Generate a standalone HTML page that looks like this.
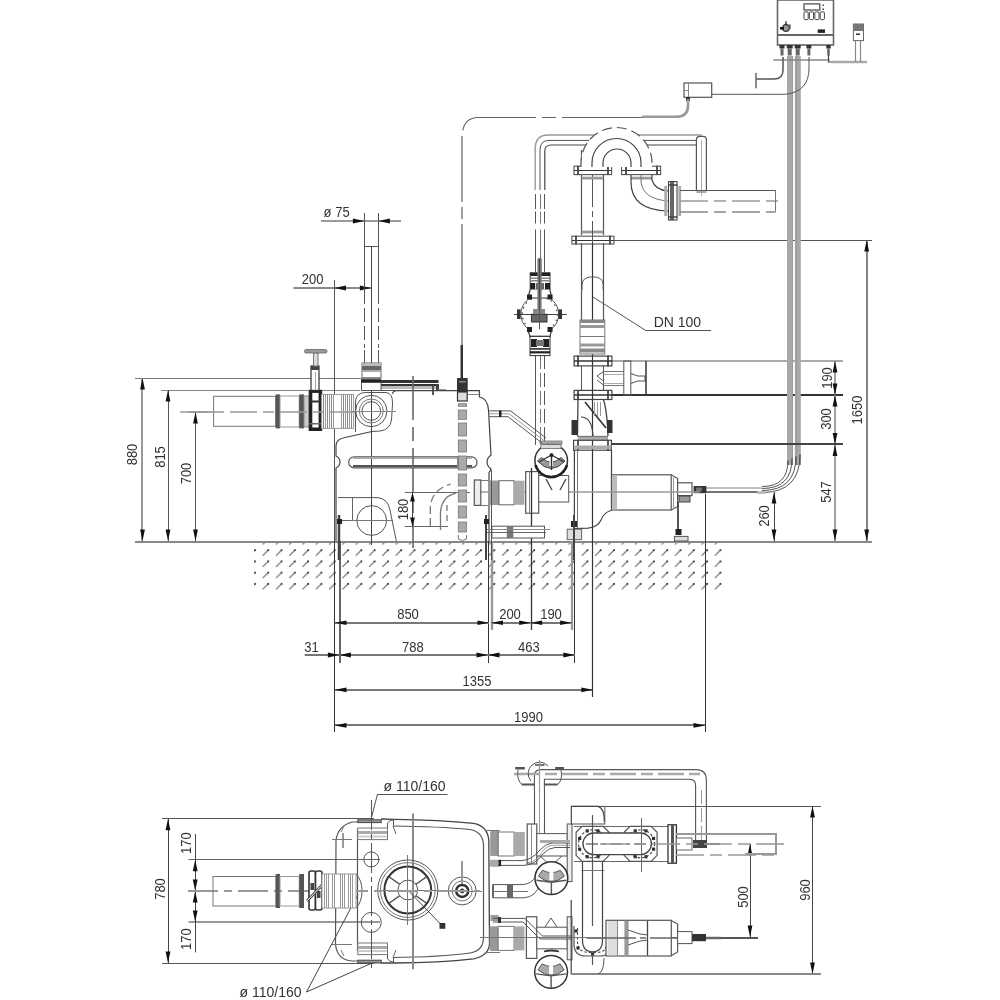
<!DOCTYPE html>
<html><head><meta charset="utf-8"><style>
html,body{margin:0;padding:0;background:#fff;}
svg{display:block;}
text{font-family:"Liberation Sans",sans-serif;}
svg{will-change:transform;}
</style></head><body>
<svg width="1000" height="1000" viewBox="0 0 1000 1000">
<defs>
<pattern id="hatch" patternUnits="userSpaceOnUse" width="13.3" height="11.22" x="261.5" y="537.1">
<path d="M1.2,7.4 L7.2,1.4" stroke="#666" stroke-width="1.1"/><circle cx="6.8" cy="1.8" r="0.95" fill="#222"/>
</pattern>
</defs>
<rect width="1000" height="1000" fill="#fff"/>
<rect x="254" y="541" width="474" height="49.5" fill="url(#hatch)"/>
<line x1="135" y1="542" x2="872" y2="542" stroke="#888" stroke-width="2"/>
<line x1="135" y1="378.5" x2="362" y2="378.5" stroke="#777" stroke-width="1.2"/>
<line x1="142" y1="378" x2="142" y2="541" stroke="#999" stroke-width="2"/>
<polygon points="142.5,378.0 140.1,389.5 144.9,389.5" fill="#111"/>
<polygon points="142.5,541.0 140.1,529.5 144.9,529.5" fill="#111"/>
<line x1="161" y1="390.5" x2="360" y2="390.5" stroke="#888" stroke-width="1.2"/>
<line x1="168.5" y1="390" x2="168.5" y2="541" stroke="#555" stroke-width="1"/>
<polygon points="168.0,390.0 165.6,401.5 170.4,401.5" fill="#111"/>
<polygon points="168.0,541.0 165.6,529.5 170.4,529.5" fill="#111"/>
<line x1="188" y1="412" x2="213" y2="412" stroke="#888" stroke-width="1.5"/>
<line x1="195.5" y1="412" x2="195.5" y2="541" stroke="#555" stroke-width="1"/>
<polygon points="195.5,412.0 193.1,423.5 197.9,423.5" fill="#111"/>
<polygon points="195.5,541.0 193.1,529.5 197.9,529.5" fill="#111"/>
<text transform="translate(132,454.5) rotate(-90) scale(0.93,1)" x="0" y="5.04" font-size="14" text-anchor="middle" fill="#333">880</text>
<text transform="translate(160,457) rotate(-90) scale(0.93,1)" x="0" y="5.04" font-size="14" text-anchor="middle" fill="#333">815</text>
<text transform="translate(186,473.5) rotate(-90) scale(0.93,1)" x="0" y="5.04" font-size="14" text-anchor="middle" fill="#333">700</text>
<line x1="321" y1="221" x2="401" y2="221" stroke="#777" stroke-width="1.5"/>
<polygon points="364.4,221.0 352.9,218.6 352.9,223.4" fill="#111"/>
<polygon points="378.4,221.0 389.9,218.6 389.9,223.4" fill="#111"/>
<line x1="364.5" y1="213" x2="364.5" y2="246" stroke="#555" stroke-width="1"/>
<line x1="378.5" y1="213" x2="378.5" y2="246" stroke="#555" stroke-width="1"/>
<text transform="translate(336.6,212) scale(0.93,1)" x="0" y="5.04" font-size="14" text-anchor="middle" fill="#333">ø 75</text>
<line x1="293.4" y1="288" x2="371.4" y2="288" stroke="#888" stroke-width="2"/>
<polygon points="334.4,288.0 345.9,285.6 345.9,290.4" fill="#111"/>
<polygon points="371.4,288.0 359.9,285.6 359.9,290.4" fill="#111"/>
<line x1="334.5" y1="280" x2="334.5" y2="541" stroke="#555" stroke-width="1"/>
<text transform="translate(312.6,279) scale(0.93,1)" x="0" y="5.04" font-size="14" text-anchor="middle" fill="#333">200</text>
<line x1="613" y1="240.5" x2="872" y2="240.5" stroke="#555" stroke-width="1"/>
<line x1="867" y1="240" x2="867" y2="541" stroke="#666" stroke-width="1.6"/>
<polygon points="866.7,240.0 864.3,251.5 869.1,251.5" fill="#111"/>
<polygon points="866.7,541.0 864.3,529.5 869.1,529.5" fill="#111"/>
<text transform="translate(856.5,410) rotate(-90) scale(0.93,1)" x="0" y="5.04" font-size="14" text-anchor="middle" fill="#333">1650</text>
<line x1="611" y1="361" x2="843" y2="361" stroke="#aaa" stroke-width="2"/>
<line x1="611" y1="395" x2="843" y2="395" stroke="#333" stroke-width="2"/>
<line x1="611" y1="444" x2="843" y2="444" stroke="#444" stroke-width="1.8"/>
<line x1="835" y1="361" x2="835" y2="541" stroke="#888" stroke-width="1.6"/>
<polygon points="835.0,361.0 832.6,372.5 837.4,372.5" fill="#111"/>
<polygon points="835.0,395.0 832.6,383.5 837.4,383.5" fill="#111"/>
<polygon points="835.0,395.0 832.6,406.5 837.4,406.5" fill="#111"/>
<polygon points="835.0,444.5 832.6,433.0 837.4,433.0" fill="#111"/>
<polygon points="835.0,444.5 832.6,456.0 837.4,456.0" fill="#111"/>
<polygon points="835.0,541.0 832.6,529.5 837.4,529.5" fill="#111"/>
<text transform="translate(826.5,378) rotate(-90) scale(0.93,1)" x="0" y="5.04" font-size="14" text-anchor="middle" fill="#333">190</text>
<text transform="translate(826,419) rotate(-90) scale(0.93,1)" x="0" y="5.04" font-size="14" text-anchor="middle" fill="#333">300</text>
<text transform="translate(826,492) rotate(-90) scale(0.93,1)" x="0" y="5.04" font-size="14" text-anchor="middle" fill="#333">547</text>
<line x1="774.5" y1="492" x2="774.5" y2="541" stroke="#444" stroke-width="1"/>
<polygon points="774.0,492.0 771.6,503.5 776.4,503.5" fill="#111"/>
<polygon points="774.0,541.0 771.6,529.5 776.4,529.5" fill="#111"/>
<text transform="translate(763.6,516) rotate(-90) scale(0.93,1)" x="0" y="5.04" font-size="14" text-anchor="middle" fill="#333">260</text>
<line x1="492" y1="541" x2="492" y2="630" stroke="#999" stroke-width="2.4"/>
<line x1="572" y1="541" x2="572" y2="630" stroke="#999" stroke-width="2.2"/>
<line x1="334.5" y1="541" x2="334.5" y2="732" stroke="#333" stroke-width="1"/>
<line x1="488.5" y1="541" x2="488.5" y2="663" stroke="#333" stroke-width="1"/>
<line x1="574.5" y1="541" x2="574.5" y2="663" stroke="#333" stroke-width="1"/>
<line x1="592.5" y1="541" x2="592.5" y2="697" stroke="#333" stroke-width="1"/>
<line x1="705.5" y1="541" x2="705.5" y2="732" stroke="#333" stroke-width="1"/>
<line x1="705.5" y1="494" x2="705.5" y2="541" stroke="#333" stroke-width="1"/>
<line x1="340" y1="541" x2="340" y2="663" stroke="#555" stroke-width="1.8"/>
<line x1="335" y1="623" x2="489" y2="623" stroke="#777" stroke-width="2"/>
<polygon points="335.0,622.8 346.5,620.4 346.5,625.1" fill="#111"/>
<polygon points="489.0,622.8 477.5,620.4 477.5,625.1" fill="#111"/>
<line x1="491.5" y1="623" x2="530.7" y2="623" stroke="#777" stroke-width="2"/>
<polygon points="491.5,622.8 503.0,620.4 503.0,625.1" fill="#111"/>
<polygon points="530.7,622.8 519.2,620.4 519.2,625.1" fill="#111"/>
<line x1="530.7" y1="623" x2="571.6" y2="623" stroke="#777" stroke-width="2"/>
<polygon points="530.7,622.8 542.2,620.4 542.2,625.1" fill="#111"/>
<polygon points="571.6,622.8 560.1,620.4 560.1,625.1" fill="#111"/>
<line x1="304.7" y1="655" x2="339.4" y2="655" stroke="#777" stroke-width="2"/>
<polygon points="339.4,655.0 327.9,652.6 327.9,657.4" fill="#111"/>
<line x1="339.4" y1="655" x2="488" y2="655" stroke="#777" stroke-width="2"/>
<polygon points="339.4,655.0 350.9,652.6 350.9,657.4" fill="#111"/>
<polygon points="488.0,655.0 476.5,652.6 476.5,657.4" fill="#111"/>
<line x1="488" y1="655" x2="574.8" y2="655" stroke="#777" stroke-width="2"/>
<polygon points="488.0,655.0 499.5,652.6 499.5,657.4" fill="#111"/>
<polygon points="574.8,655.0 563.3,652.6 563.3,657.4" fill="#111"/>
<line x1="335" y1="690" x2="592.8" y2="690" stroke="#777" stroke-width="2"/>
<polygon points="335.0,689.8 346.5,687.4 346.5,692.2" fill="#111"/>
<polygon points="592.8,689.8 581.3,687.4 581.3,692.2" fill="#111"/>
<line x1="335" y1="725" x2="705" y2="725" stroke="#777" stroke-width="2"/>
<polygon points="335.0,725.4 346.5,723.0 346.5,727.8" fill="#111"/>
<polygon points="705.0,725.4 693.5,723.0 693.5,727.8" fill="#111"/>
<text transform="translate(408,614) scale(0.93,1)" x="0" y="5.04" font-size="14" text-anchor="middle" fill="#333">850</text>
<text transform="translate(510,614) scale(0.93,1)" x="0" y="5.04" font-size="14" text-anchor="middle" fill="#333">200</text>
<text transform="translate(551,614) scale(0.93,1)" x="0" y="5.04" font-size="14" text-anchor="middle" fill="#333">190</text>
<text transform="translate(311.5,646.6) scale(0.93,1)" x="0" y="5.04" font-size="14" text-anchor="middle" fill="#333">31</text>
<text transform="translate(412.8,646.6) scale(0.93,1)" x="0" y="5.04" font-size="14" text-anchor="middle" fill="#333">788</text>
<text transform="translate(528.9,646.6) scale(0.93,1)" x="0" y="5.04" font-size="14" text-anchor="middle" fill="#333">463</text>
<text transform="translate(477,681) scale(0.93,1)" x="0" y="5.04" font-size="14" text-anchor="middle" fill="#333">1355</text>
<text transform="translate(528.4,717) scale(0.93,1)" x="0" y="5.04" font-size="14" text-anchor="middle" fill="#333">1990</text>
<line x1="162" y1="818.5" x2="374" y2="818.5" stroke="#555" stroke-width="1"/>
<line x1="162" y1="963.5" x2="374" y2="963.5" stroke="#555" stroke-width="1"/>
<line x1="168.5" y1="818.8" x2="168.5" y2="963" stroke="#444" stroke-width="1"/>
<polygon points="168.0,818.8 165.6,830.3 170.4,830.3" fill="#111"/>
<polygon points="168.0,963.0 165.6,951.5 170.4,951.5" fill="#111"/>
<text transform="translate(160,889) rotate(-90) scale(0.93,1)" x="0" y="5.04" font-size="14" text-anchor="middle" fill="#333">780</text>
<line x1="188.5" y1="859.5" x2="380" y2="859.5" stroke="#666" stroke-width="1"/>
<line x1="188.5" y1="922" x2="380" y2="922" stroke="#999" stroke-width="2"/>
<line x1="195.5" y1="834" x2="195.5" y2="952.4" stroke="#444" stroke-width="1"/>
<polygon points="195.2,859.8 192.8,871.3 197.6,871.3" fill="#111"/>
<polygon points="195.2,891.0 192.8,879.5 197.6,879.5" fill="#111"/>
<polygon points="195.2,891.0 192.8,902.5 197.6,902.5" fill="#111"/>
<polygon points="195.2,922.0 192.8,910.5 197.6,910.5" fill="#111"/>
<text transform="translate(186.4,843.2) rotate(-90) scale(0.93,1)" x="0" y="5.04" font-size="14" text-anchor="middle" fill="#333">170</text>
<text transform="translate(186.4,939.2) rotate(-90) scale(0.93,1)" x="0" y="5.04" font-size="14" text-anchor="middle" fill="#333">170</text>
<line x1="572.8" y1="806.5" x2="821" y2="806.5" stroke="#555" stroke-width="1"/>
<line x1="812.5" y1="806" x2="812.5" y2="974" stroke="#444" stroke-width="1"/>
<polygon points="812.5,806.0 810.1,817.5 814.9,817.5" fill="#111"/>
<polygon points="812.5,974.0 810.1,962.5 814.9,962.5" fill="#111"/>
<text transform="translate(805,890) rotate(-90) scale(0.93,1)" x="0" y="5.04" font-size="14" text-anchor="middle" fill="#333">960</text>
<line x1="750.5" y1="843.8" x2="750.5" y2="937" stroke="#444" stroke-width="1"/>
<polygon points="750.0,843.8 747.6,855.3 752.4,855.3" fill="#111"/>
<polygon points="750.0,937.0 747.6,925.5 752.4,925.5" fill="#111"/>
<text transform="translate(743,897) rotate(-90) scale(0.93,1)" x="0" y="5.04" font-size="14" text-anchor="middle" fill="#333">500</text>
<text transform="translate(414.6,786) scale(1.0,1)" x="0" y="5.04" font-size="14" text-anchor="middle" fill="#333">ø 110/160</text>
<line x1="377.5" y1="794.5" x2="447.5" y2="794.5" stroke="#555" stroke-width="1"/>
<line x1="377.5" y1="794" x2="371" y2="819.5" stroke="#555" stroke-width="1"/>
<text transform="translate(270.5,992) scale(1.0,1)" x="0" y="5.04" font-size="14" text-anchor="middle" fill="#333">ø 110/160</text>
<line x1="306.5" y1="992" x2="371" y2="963.5" stroke="#444" stroke-width="1"/>
<line x1="306.5" y1="992" x2="358" y2="894.4" stroke="#444" stroke-width="1"/>
<text transform="translate(677.4,321.8) scale(1.0,1)" x="0" y="5.04" font-size="14" text-anchor="middle" fill="#333">DN 100</text>
<line x1="593" y1="297" x2="645" y2="330" stroke="#555" stroke-width="1"/>
<line x1="645" y1="330.5" x2="711" y2="330.5" stroke="#555" stroke-width="1"/>
<line x1="364.4" y1="246.5" x2="378.4" y2="246.5" stroke="#555" stroke-width="1"/>
<line x1="364.5" y1="246" x2="364.5" y2="290" stroke="#555" stroke-width="1"/>
<line x1="378.5" y1="246" x2="378.5" y2="290" stroke="#555" stroke-width="1"/>
<line x1="364.5" y1="290" x2="364.5" y2="348" stroke="#555" stroke-width="1" stroke-dasharray="14,4"/>
<line x1="378.5" y1="290" x2="378.5" y2="348" stroke="#555" stroke-width="1" stroke-dasharray="14,4"/>
<line x1="364.5" y1="350" x2="364.5" y2="363" stroke="#555" stroke-width="1"/>
<line x1="378.5" y1="350" x2="378.5" y2="363" stroke="#555" stroke-width="1"/>
<line x1="371.5" y1="246" x2="371.5" y2="545" stroke="#444" stroke-width="1"/>
<rect x="362" y="363" width="19" height="16" stroke="#666" stroke-width="1" fill="#fff"/>
<rect x="362" y="363.5" width="19" height="2.5" fill="#bbb"/>
<rect x="362" y="366" width="19" height="4" fill="#666"/>
<rect x="362" y="370" width="19" height="2" fill="#aaa"/>
<rect x="362" y="377" width="19" height="2" fill="#888"/>
<rect x="213.6" y="396.3" width="62" height="30" stroke="#777" stroke-width="1" fill="none"/>
<rect x="275.7" y="394.4" width="4.3" height="34" fill="#555"/>
<rect x="280" y="396" width="19.2" height="31" stroke="#999" stroke-width="1" fill="none"/>
<rect x="299.2" y="394.4" width="4.8" height="34" fill="#555"/>
<rect x="304" y="396" width="5.3" height="31" stroke="#888" stroke-width="1" fill="#ccc"/>
<rect x="309.3" y="390.4" width="12.3" height="40" stroke="#222" stroke-width="1.2" fill="#fff"/>
<rect x="309.3" y="390.4" width="3" height="40" fill="#222"/>
<rect x="318.6" y="390.4" width="3" height="40" fill="#222"/>
<rect x="309.3" y="390.4" width="12.3" height="2.5" fill="#222"/>
<rect x="309.3" y="400.5" width="12.3" height="2" fill="#333"/>
<rect x="309.3" y="423" width="12.3" height="1.5" fill="#666"/>
<rect x="309.3" y="427.5" width="12.3" height="3" fill="#222"/>
<rect x="311" y="366" width="8" height="24.4" stroke="#333" stroke-width="1.2" fill="#fff"/>
<rect x="311" y="366" width="8" height="4" fill="#444"/>
<line x1="315.5" y1="372" x2="315.5" y2="390" stroke="#aaa" stroke-width="1"/>
<rect x="313.5" y="353" width="4.5" height="13" stroke="#777" stroke-width="1" fill="#ddd"/>
<rect x="304.5" y="349.5" width="22.5" height="3.5" stroke="#666" stroke-width="0.8" fill="#999" rx="1.5"/>
<rect x="321.6" y="394.4" width="32" height="34" stroke="#999" stroke-width="1" fill="#fff"/>
<line x1="323.5" y1="394.4" x2="323.5" y2="428.3" stroke="#888" stroke-width="1"/>
<line x1="325.5" y1="394.4" x2="325.5" y2="428.3" stroke="#999" stroke-width="1"/>
<line x1="327.5" y1="394.4" x2="327.5" y2="428.3" stroke="#888" stroke-width="1"/>
<line x1="329.5" y1="394.4" x2="329.5" y2="428.3" stroke="#999" stroke-width="1"/>
<line x1="331.5" y1="394.4" x2="331.5" y2="428.3" stroke="#888" stroke-width="1"/>
<line x1="333.5" y1="394.4" x2="333.5" y2="428.3" stroke="#999" stroke-width="1"/>
<line x1="341.5" y1="394.4" x2="341.5" y2="428.3" stroke="#999" stroke-width="1"/>
<line x1="343.5" y1="394.4" x2="343.5" y2="428.3" stroke="#888" stroke-width="1"/>
<line x1="345.5" y1="394.4" x2="345.5" y2="428.3" stroke="#999" stroke-width="1"/>
<line x1="347.5" y1="394.4" x2="347.5" y2="428.3" stroke="#888" stroke-width="1"/>
<line x1="349.5" y1="394.4" x2="349.5" y2="428.3" stroke="#999" stroke-width="1"/>
<line x1="351.5" y1="394.4" x2="351.5" y2="428.3" stroke="#888" stroke-width="1"/>
<line x1="180" y1="412" x2="360" y2="412" stroke="#999" stroke-width="1.6" stroke-dasharray="27,6,11,6"/>
<rect x="361" y="379.3" width="20" height="3" fill="#222"/>
<rect x="381" y="380" width="57.5" height="3" fill="#333"/>
<rect x="381" y="384" width="57.5" height="2" fill="#333"/>
<rect x="381" y="386" width="57.5" height="3" fill="#bbb"/>
<rect x="361.5" y="382.5" width="19.5" height="8" stroke="#555" stroke-width="1" fill="#fff"/>
<line x1="381" y1="390.5" x2="395" y2="390.5" stroke="#555" stroke-width="1"/>
<rect x="432" y="386" width="2" height="9" fill="#555"/>
<rect x="436" y="384" width="3" height="7" fill="#444"/>
<line x1="438" y1="390" x2="446" y2="390" stroke="#777" stroke-width="1.5"/>
<path d="M355.5,432 L355.5,402 Q355.5,392.5 366,392.5 L386,392.5 Q393,393 392.5,404 L391.5,420 Q390,430 380,431 L372,431.5" stroke="#555" stroke-width="1" fill="none"/>
<circle cx="371.3" cy="411" r="15.7" stroke="#555" stroke-width="1" fill="none"/>
<circle cx="371.3" cy="411" r="12" stroke="#777" stroke-width="1" fill="none"/>
<circle cx="371.3" cy="411" r="9.3" stroke="#555" stroke-width="1" fill="none"/>
<line x1="352" y1="411.5" x2="396" y2="411.5" stroke="#888" stroke-width="1"/>
<path d="M392.5,394 Q393,390.6 397,390.6 L479.4,390.6 L479.4,397 Q487.5,398 488.5,410 L491,455 Q487,458 487,462 Q487,466 491,469 L489,473 L489,541" stroke="#444" stroke-width="1.2" fill="none"/>
<line x1="458" y1="394.5" x2="479.4" y2="394.5" stroke="#888" stroke-width="1"/>
<path d="M372,431.5 L345,437.5 Q336,439 336,446 L336,456 Q340,458 340,462 Q340,466 336,468 L336,541" stroke="#444" stroke-width="1.2" fill="none"/>
<rect x="348.7" y="456.8" width="128.3" height="11.1" stroke="#555" stroke-width="1.2" fill="none" rx="5.5"/>
<line x1="353" y1="458" x2="472" y2="458" stroke="#aaa" stroke-width="2"/>
<line x1="353" y1="466" x2="472" y2="466" stroke="#555" stroke-width="2"/>
<rect x="457" y="457" width="10" height="11" fill="#888"/>
<path d="M338,497.6 L378,497.6 Q388,499 390,510 L396.3,541" stroke="#555" stroke-width="1" fill="none"/>
<line x1="352.5" y1="497.6" x2="352.5" y2="520" stroke="#666" stroke-width="1"/>
<line x1="338" y1="520.5" x2="352" y2="520.5" stroke="#666" stroke-width="1"/>
<circle cx="371.7" cy="520.5" r="14.9" stroke="#555" stroke-width="1" fill="none"/>
<line x1="350" y1="520.5" x2="393" y2="520.5" stroke="#777" stroke-width="1"/>
<line x1="413" y1="376" x2="413" y2="548" stroke="#666" stroke-width="1.6" stroke-dasharray="44,7,14,7"/>
<line x1="404.8" y1="492.5" x2="470" y2="492.5" stroke="#666" stroke-width="1"/>
<line x1="404.8" y1="526.5" x2="448" y2="526.5" stroke="#666" stroke-width="1"/>
<line x1="412.5" y1="492.5" x2="412.5" y2="526.5" stroke="#444" stroke-width="1"/>
<polygon points="412.5,492.5 410.1,501.5 414.9,501.5" fill="#111"/>
<polygon points="412.5,526.5 410.1,517.5 414.9,517.5" fill="#111"/>
<text transform="translate(403,509.5) rotate(-90) scale(0.93,1)" x="0" y="5.04" font-size="14" text-anchor="middle" fill="#333">180</text>
<path d="M430.3,526 L430.3,508 Q431,490 450.7,484" stroke="#777" stroke-width="1.3" fill="none" stroke-dasharray="8,4"/>
<path d="M440.5,530 L440.5,512 Q442,496 455.8,493.4" stroke="#777" stroke-width="1.3" fill="none"/>
<path d="M447,505 L447,522" stroke="#777" stroke-width="1.3" fill="none" stroke-dasharray="6,4"/>
<line x1="462" y1="136" x2="462" y2="345" stroke="#888" stroke-width="1.6" stroke-dasharray="66,5,12,5,300"/>
<rect x="460.5" y="345" width="2.5" height="33" fill="#333"/>
<rect x="457" y="378" width="10.7" height="14" fill="#333"/>
<rect x="459" y="381" width="6.7" height="1.5" fill="#888"/>
<rect x="457.5" y="392" width="9.7" height="9" stroke="#333" stroke-width="1.2" fill="#ddd"/>
<rect x="458.3" y="403.7" width="8.2" height="2.6000000000000227" stroke="#777" stroke-width="0.8" fill="#aaa"/>
<rect x="458.3" y="410" width="8.2" height="9.300000000000011" stroke="#777" stroke-width="0.8" fill="#aaa"/>
<rect x="458.3" y="423" width="8.2" height="13" stroke="#777" stroke-width="0.8" fill="#aaa"/>
<rect x="458.3" y="440" width="8.2" height="12" stroke="#777" stroke-width="0.8" fill="#aaa"/>
<rect x="458.3" y="456" width="8.2" height="14" stroke="#777" stroke-width="0.8" fill="#aaa"/>
<rect x="458.3" y="474" width="8.2" height="12" stroke="#777" stroke-width="0.8" fill="#aaa"/>
<rect x="458.3" y="490" width="8.2" height="12" stroke="#777" stroke-width="0.8" fill="#aaa"/>
<rect x="458.3" y="506" width="8.2" height="12" stroke="#777" stroke-width="0.8" fill="#aaa"/>
<rect x="458.3" y="522" width="8.2" height="10" stroke="#777" stroke-width="0.8" fill="#aaa"/>
<path d="M458.3,535 L458.3,539 Q462.4,542 466.5,539 L466.5,535" stroke="#777" stroke-width="1" fill="none"/>
<line x1="339" y1="515" x2="339" y2="560" stroke="#444" stroke-width="2.5"/>
<rect x="337" y="519" width="5" height="5" fill="#222"/>
<path d="M535.2,190 L535.2,149 Q535.2,135 548,135 L701.6,135" stroke="#999" stroke-width="1.4" fill="none"/>
<path d="M696.4,191 L696.4,140 Q696.4,136.4 700,136.4 L703,136.4 Q706.4,136.4 706.4,140 L706.4,191" stroke="#555" stroke-width="1.2" fill="#fff"/>
<line x1="701.5" y1="140" x2="701.5" y2="196" stroke="#aaa" stroke-width="1"/>
<rect x="696.4" y="190" width="10" height="3" fill="#aaa"/>
<path d="M540,190 L540,150 Q540,140.4 549,140.4 L696.4,140.4" stroke="#555" stroke-width="1" fill="none"/>
<path d="M544.8,190 L544.8,151 Q544.8,145 551,145 L696.4,145" stroke="#444" stroke-width="1.2" fill="none"/>
<line x1="535.5" y1="190" x2="535.5" y2="232" stroke="#555" stroke-width="1" stroke-dasharray="0,4,15,2.5,12,2"/>
<line x1="535.5" y1="232" x2="535.5" y2="272" stroke="#555" stroke-width="1"/>
<line x1="535.5" y1="355" x2="535.5" y2="445" stroke="#555" stroke-width="1"/>
<line x1="540.5" y1="190" x2="540.5" y2="232" stroke="#777" stroke-width="1" stroke-dasharray="0,4,15,2.5,12,2"/>
<line x1="540.5" y1="232" x2="540.5" y2="272" stroke="#777" stroke-width="1"/>
<line x1="540.5" y1="355" x2="540.5" y2="445" stroke="#777" stroke-width="1" stroke-dasharray="14,4"/>
<line x1="544.5" y1="190" x2="544.5" y2="232" stroke="#555" stroke-width="1" stroke-dasharray="0,4,15,2.5,12,2"/>
<line x1="544.5" y1="232" x2="544.5" y2="272" stroke="#555" stroke-width="1"/>
<line x1="544.5" y1="355" x2="544.5" y2="445" stroke="#555" stroke-width="1" stroke-dasharray="14,4"/>
<rect x="538" y="258" width="3.5" height="14" fill="#777"/>
<circle cx="539.8" cy="314.2" r="18.9" stroke="#555" stroke-width="1" fill="#fff"/>
<circle cx="539.8" cy="314.2" r="17.5" stroke="#444" stroke-width="1.2" fill="none" stroke-dasharray="1.5,4"/>
<line x1="514" y1="314.5" x2="566.8" y2="314.5" stroke="#444" stroke-width="1"/>
<rect x="517" y="309.4" width="3.6" height="9.6" fill="#333"/>
<rect x="558.4" y="309.4" width="3.6" height="9.6" fill="#333"/>
<rect x="530.2" y="272.8" width="19.8" height="16.8" stroke="#333" stroke-width="1" fill="#fff"/>
<rect x="530.2" y="272.8" width="19.8" height="3.2" fill="#222"/>
<rect x="530.2" y="277.5" width="19.8" height="1.5" fill="#888"/>
<rect x="530.2" y="280" width="19.8" height="1.5" fill="#888"/>
<rect x="530.2" y="283" width="5" height="6.6" fill="#222"/>
<rect x="545" y="283" width="5" height="6.6" fill="#222"/>
<rect x="536" y="283" width="8" height="6" fill="#666"/>
<path d="M530.2,289.6 L527.8,298 L551.8,298 L549.8,289.6" stroke="#333" stroke-width="1.2" fill="#fff"/>
<rect x="527" y="294.5" width="5" height="5" fill="#222"/>
<rect x="547.5" y="294.5" width="5" height="5" fill="#222"/>
<rect x="537.4" y="259" width="4.2" height="51" fill="#777"/>
<line x1="539.5" y1="259" x2="539.5" y2="300" stroke="#444" stroke-width="1"/>
<rect x="531.4" y="314.2" width="15.6" height="7.8" stroke="#333" stroke-width="1" fill="#666"/>
<rect x="533" y="309" width="12" height="5" fill="#888"/>
<line x1="539.5" y1="298" x2="539.5" y2="330" stroke="#555" stroke-width="1"/>
<path d="M527.8,329.2 L530,336.4 L550,336.4 L551.8,329.2" stroke="#333" stroke-width="1.2" fill="#fff"/>
<rect x="527" y="327" width="5" height="5" fill="#222"/>
<rect x="547.5" y="327" width="5" height="5" fill="#222"/>
<rect x="530" y="336.4" width="20" height="19.2" stroke="#333" stroke-width="1" fill="#fff"/>
<rect x="531" y="339" width="6" height="8" fill="#222"/>
<rect x="543" y="339" width="6" height="8" fill="#222"/>
<rect x="536" y="340" width="8" height="6" fill="#777"/>
<rect x="530" y="348" width="20" height="1.8" fill="#444"/>
<rect x="530" y="351.2" width="20" height="2.2" fill="#222"/>
<line x1="581.5" y1="175" x2="581.5" y2="235" stroke="#555" stroke-width="1.2"/>
<line x1="603.5" y1="175" x2="603.5" y2="235" stroke="#555" stroke-width="1.2"/>
<rect x="571.9" y="236.2" width="42.0" height="7.800000000000011" stroke="#555" stroke-width="1.1" fill="#fff"/>
<line x1="571.9" y1="240.5" x2="613.9" y2="240.5" stroke="#333" stroke-width="1.2"/>
<line x1="576" y1="235.7" x2="576" y2="244.5" stroke="#444" stroke-width="1.8"/>
<line x1="610" y1="235.7" x2="610" y2="244.5" stroke="#444" stroke-width="1.8"/>
<rect x="581.6" y="230.6" width="21.6" height="2.8" fill="#999"/>
<line x1="581.5" y1="243" x2="581.5" y2="320" stroke="#555" stroke-width="1.2"/>
<line x1="603.5" y1="243" x2="603.5" y2="320" stroke="#555" stroke-width="1.2"/>
<line x1="592.5" y1="167" x2="592.5" y2="243" stroke="#555" stroke-width="1" stroke-dasharray="40,4,6,4"/>
<line x1="592.5" y1="243" x2="592.5" y2="697" stroke="#333" stroke-width="1.2"/>
<path d="M582,290 L582,285 Q582,276.8 592.8,276.8 Q603.2,276.8 603.2,285 L603.2,290" stroke="#555" stroke-width="1" fill="none"/>
<rect x="580" y="320" width="24.8" height="34" stroke="#777" stroke-width="1" fill="#fff"/>
<rect x="580" y="320" width="24.8" height="3" fill="#888"/>
<rect x="580" y="325" width="24.8" height="3" fill="#999"/>
<rect x="580" y="343.5" width="24.8" height="3" fill="#999"/>
<rect x="580" y="348.5" width="24.8" height="4" fill="#888"/>
<line x1="580" y1="336.5" x2="604.8" y2="336.5" stroke="#777" stroke-width="1"/>
<rect x="574.1" y="356.1" width="37.8" height="9.8" stroke="#444" stroke-width="1.2" fill="none"/>
<line x1="578" y1="355.6" x2="578" y2="366.4" stroke="#444" stroke-width="1.8"/>
<line x1="608" y1="355.6" x2="608" y2="366.4" stroke="#444" stroke-width="1.8"/>
<line x1="574.1" y1="361" x2="611.9" y2="361" stroke="#333" stroke-width="1.5"/>
<line x1="581.5" y1="366" x2="581.5" y2="390.4" stroke="#555" stroke-width="1"/>
<line x1="603.5" y1="366" x2="603.5" y2="390.4" stroke="#555" stroke-width="1"/>
<path d="M603.5,371.5 L597,376 L603.5,381 M603.5,385 L597,380" stroke="#555" stroke-width="1" fill="none"/>
<rect x="574.1" y="390.4" width="37.8" height="9.1" stroke="#444" stroke-width="1.2" fill="none"/>
<line x1="578" y1="389.9" x2="578" y2="400" stroke="#444" stroke-width="1.8"/>
<line x1="608" y1="389.9" x2="608" y2="400" stroke="#444" stroke-width="1.8"/>
<line x1="574.1" y1="395" x2="611.9" y2="395" stroke="#333" stroke-width="1.5"/>
<line x1="603.5" y1="371.5" x2="623.8" y2="371.5" stroke="#777" stroke-width="1"/>
<line x1="603.5" y1="374.5" x2="623.8" y2="374.5" stroke="#aaa" stroke-width="1"/>
<line x1="603.5" y1="383.5" x2="623.8" y2="383.5" stroke="#aaa" stroke-width="1"/>
<line x1="603.5" y1="385.5" x2="623.8" y2="385.5" stroke="#777" stroke-width="1"/>
<rect x="623.8" y="361" width="7" height="34" stroke="#555" stroke-width="1" fill="none"/>
<path d="M630.8,373.5 L637.8,376 L645,376 L645,381 L637.8,381 L630.8,383.5" stroke="#555" stroke-width="1" fill="none"/>
<line x1="646" y1="361" x2="646" y2="395" stroke="#333" stroke-width="1.5"/>
<path d="M578,400 L577.5,436 M603.5,400 Q607,410 608,436" stroke="#444" stroke-width="1.3" fill="none"/>
<line x1="577.5" y1="436.5" x2="608" y2="436.5" stroke="#444" stroke-width="1.2"/>
<path d="M585,402 L606,428" stroke="#333" stroke-width="1.6" fill="none"/>
<path d="M581,417 Q592,417 593,436" stroke="#444" stroke-width="1.2" fill="none"/>
<line x1="594.5" y1="402" x2="594.5" y2="416" stroke="#999" stroke-width="1"/>
<line x1="597.5" y1="402" x2="597.5" y2="416" stroke="#999" stroke-width="1"/>
<line x1="600.5" y1="402" x2="600.5" y2="416" stroke="#999" stroke-width="1"/>
<rect x="571.5" y="420" width="6" height="15" fill="#333"/>
<rect x="607" y="420" width="5.5" height="13" fill="#333"/>
<rect x="578" y="436.5" width="30" height="3.5" fill="#aaa"/>
<rect x="573.6" y="440.3" width="37.8" height="9.9" stroke="#444" stroke-width="1.2" fill="none"/>
<line x1="578" y1="439.8" x2="578" y2="450.7" stroke="#444" stroke-width="1.8"/>
<line x1="608" y1="439.8" x2="608" y2="450.7" stroke="#444" stroke-width="1.8"/>
<rect x="574" y="166.2" width="37.60000000000002" height="8.400000000000006" stroke="#555" stroke-width="1.1" fill="#fff"/>
<line x1="574" y1="170.5" x2="611.6" y2="170.5" stroke="#333" stroke-width="1.2"/>
<line x1="578" y1="165.7" x2="578" y2="175.1" stroke="#444" stroke-width="1.8"/>
<line x1="608" y1="165.7" x2="608" y2="175.1" stroke="#444" stroke-width="1.8"/>
<rect x="581.6" y="176.7" width="21.6" height="2.8" fill="#999"/>
<rect x="621.6" y="166.2" width="39.0" height="8.400000000000006" stroke="#555" stroke-width="1.1" fill="#fff"/>
<line x1="621.6" y1="170.5" x2="660.6" y2="170.5" stroke="#333" stroke-width="1.2"/>
<line x1="626" y1="165.7" x2="626" y2="175.1" stroke="#444" stroke-width="1.8"/>
<line x1="657" y1="165.7" x2="657" y2="175.1" stroke="#444" stroke-width="1.8"/>
<rect x="631" y="176.7" width="21" height="2.8" fill="#999"/>
<line x1="581.5" y1="150" x2="581.5" y2="167" stroke="#555" stroke-width="1.2"/>
<line x1="603.5" y1="152" x2="603.5" y2="167" stroke="#555" stroke-width="1.2"/>
<path d="M581,167 L581,163 A35.5,35.5 0 0 1 652,163 L652,167 Z" stroke="none" stroke-width="0" fill="#fff"/>
<path d="M581,167 L581,163 A35.5,35.5 0 0 1 652,163 L652,167" stroke="#555" stroke-width="1.2" fill="none" stroke-dasharray="10,5"/>
<path d="M592,167 L592,163 A24.5,24.5 0 0 1 641,163 L641,167" stroke="#444" stroke-width="1.2" fill="none"/>
<path d="M603,167 L603,163 A14,14 0 0 1 631,163 L631,167" stroke="#444" stroke-width="1.2" fill="none"/>
<path d="M631,175 L631,182 Q631,210 668,211" stroke="#444" stroke-width="1.2" fill="none"/>
<path d="M641,175 L641,182 Q643,199 668,201" stroke="#777" stroke-width="1" fill="none"/>
<path d="M652,175 L652,180 Q655,190 668,191" stroke="#444" stroke-width="1.2" fill="none"/>
<rect x="664.3" y="186" width="2.8" height="30" fill="#aaa"/>
<rect x="668.5" y="181.6" width="8.5" height="38.4" stroke="#444" stroke-width="1.1" fill="#fff"/>
<line x1="671" y1="181.6" x2="671" y2="220" stroke="#333" stroke-width="1.5"/>
<line x1="673" y1="181.6" x2="673" y2="220" stroke="#333" stroke-width="1.5"/>
<line x1="668" y1="185" x2="677.5" y2="185" stroke="#444" stroke-width="1.5"/>
<line x1="668" y1="217" x2="677.5" y2="217" stroke="#444" stroke-width="1.5"/>
<rect x="678.3" y="186" width="2.8" height="30" fill="#aaa"/>
<line x1="680" y1="190.5" x2="775.7" y2="190.5" stroke="#555" stroke-width="1.2"/>
<line x1="680" y1="212" x2="775.7" y2="212" stroke="#888" stroke-width="1.6" stroke-dasharray="28,6,12,6"/>
<line x1="680" y1="201" x2="780" y2="201" stroke="#999" stroke-width="1.6" stroke-dasharray="28,6,12,6"/>
<line x1="775.5" y1="190.4" x2="775.5" y2="211.5" stroke="#777" stroke-width="1"/>
<rect x="787" y="56" width="6" height="409" fill="#a8a8a8"/>
<rect x="794.8" y="56" width="6" height="409" fill="#a8a8a8"/>
<line x1="792.5" y1="56" x2="792.5" y2="465" stroke="#999" stroke-width="1"/>
<line x1="796.5" y1="56" x2="796.5" y2="465" stroke="#999" stroke-width="1"/>
<path d="M788,465 L788,460.5 Q788,486.5 762,486.5" stroke="#555" stroke-width="1" fill="none"/>
<path d="M792,465 L792,458.5 Q792,488.5 762,488.5" stroke="#555" stroke-width="1" fill="none"/>
<path d="M796,465 L796,456.5 Q796,490.5 762,490.5" stroke="#555" stroke-width="1" fill="none"/>
<path d="M800,465 L800,454.5 Q800,492.5 762,492.5" stroke="#555" stroke-width="1" fill="none"/>
<line x1="706" y1="488" x2="762" y2="488" stroke="#aaa" stroke-width="1.5"/>
<line x1="706" y1="492" x2="762" y2="492" stroke="#444" stroke-width="1.5"/>
<rect x="757" y="491" width="8" height="3" fill="#bbb"/>
<rect x="777.5" y="0" width="56" height="45" stroke="#666" stroke-width="1.6" fill="#fff"/>
<line x1="777.5" y1="35" x2="833.5" y2="35" stroke="#666" stroke-width="2"/>
<rect x="804" y="3.9" width="15.8" height="6.1" stroke="#444" stroke-width="1.2" fill="none"/>
<rect x="804.0" y="11.9" width="4.2" height="7.7" stroke="#444" stroke-width="1" fill="none" rx="1"/>
<rect x="809.4" y="11.9" width="4.2" height="7.7" stroke="#444" stroke-width="1" fill="none" rx="1"/>
<rect x="814.8" y="11.9" width="4.2" height="7.7" stroke="#444" stroke-width="1" fill="none" rx="1"/>
<rect x="820.2" y="11.9" width="4.2" height="7.7" stroke="#444" stroke-width="1" fill="none" rx="1"/>
<rect x="822.5" y="4.5" width="1.5" height="1.5" fill="#444"/>
<rect x="822.5" y="8.5" width="1.5" height="1.5" fill="#444"/>
<rect x="817.7" y="29.4" width="7.3" height="3.5" fill="#222"/>
<circle cx="786" cy="28" r="3.3" stroke="#333" stroke-width="1.2" fill="#999"/>
<rect x="785" y="21" width="2" height="3" fill="#888"/>
<rect x="785" y="23.5" width="2" height="1.5" fill="#222"/>
<rect x="780" y="27" width="4" height="2.6" fill="#111"/>
<rect x="788.6" y="24.5" width="2" height="4.5" fill="#555"/>
<rect x="779.5" y="45" width="5" height="3.5" fill="#333"/>
<rect x="780.5" y="48.5" width="3" height="7" fill="#666"/>
<rect x="786.7" y="45" width="6" height="3.5" fill="#333"/>
<rect x="787.7" y="48.5" width="4" height="7" fill="#666"/>
<rect x="794.7" y="45" width="6" height="3.5" fill="#333"/>
<rect x="795.7" y="48.5" width="4" height="7" fill="#666"/>
<rect x="806.4" y="45" width="5" height="3.5" fill="#333"/>
<rect x="807.4" y="48.5" width="3" height="7" fill="#666"/>
<rect x="826.25" y="45" width="4.5" height="3.5" fill="#333"/>
<rect x="827.25" y="48.5" width="2.5" height="7" fill="#666"/>
<line x1="773.3" y1="60" x2="829.6" y2="60" stroke="#888" stroke-width="1.5"/>
<path d="M828.5,55 L828.5,62 L852,62" stroke="#444" stroke-width="1.2" fill="none"/>
<line x1="832" y1="62" x2="867" y2="62" stroke="#aaa" stroke-width="2.5"/>
<rect x="853.4" y="24" width="10.1" height="16.6" stroke="#666" stroke-width="1" fill="#fff"/>
<rect x="853.4" y="24" width="10.1" height="7" fill="#777"/>
<rect x="856" y="33.5" width="4" height="1.5" fill="#333"/>
<line x1="855.5" y1="40.6" x2="855.5" y2="62" stroke="#888" stroke-width="1.2"/>
<line x1="860.5" y1="40.6" x2="860.5" y2="62" stroke="#888" stroke-width="1.2"/>
<path d="M783,57 L783,70 Q783,79 774,79 L756,79" stroke="#555" stroke-width="1.5" fill="none"/>
<line x1="756" y1="73" x2="756" y2="88.3" stroke="#666" stroke-width="1.5"/>
<path d="M809,57 L809,68 Q809,92 785,94.3 L711.7,94.3" stroke="#555" stroke-width="1" fill="none"/>
<rect x="684" y="83" width="27.7" height="14.3" stroke="#555" stroke-width="1.2" fill="#fff"/>
<line x1="688.5" y1="83" x2="688.5" y2="97.3" stroke="#888" stroke-width="1"/>
<line x1="688" y1="90.5" x2="684" y2="90.5" stroke="#888" stroke-width="1"/>
<rect x="686" y="97" width="4" height="4" fill="#333"/>
<path d="M688,99 L688,106 Q688,116.8 676,116.8 L642,116.8" stroke="#999" stroke-width="2.6" fill="none"/>
<path d="M642,117.5 L478,117.5 Q462.4,118 462.4,136" stroke="#666" stroke-width="1.2" fill="none" stroke-dasharray="80,6,14,6"/>
<line x1="611" y1="444" x2="843" y2="444" stroke="#444" stroke-width="1.8"/>
<rect x="574.4" y="445.5" width="37" height="3.5" fill="#aaa"/>
<path d="M574.4,450 L574.4,528.6 L588,528.2 Q598,527 601,520 Q604,512 611.5,510.5 L611.5,450" stroke="#444" stroke-width="1.2" fill="none"/>
<line x1="577.5" y1="450" x2="577.5" y2="528" stroke="#777" stroke-width="1"/>
<rect x="611.5" y="474.8" width="59.7" height="35.2" stroke="#555" stroke-width="1.2" fill="#fff"/>
<rect x="612" y="475.5" width="5" height="34" fill="#bbb"/>
<path d="M671.2,474.8 L677.6,478.5 L677.6,506.5 L671.2,510" stroke="#555" stroke-width="1.2" fill="none"/>
<line x1="673.5" y1="476" x2="673.5" y2="509" stroke="#999" stroke-width="1"/>
<rect x="677.6" y="482.8" width="14.4" height="12.8" stroke="#555" stroke-width="1.2" fill="#fff"/>
<rect x="679" y="496" width="11" height="6" stroke="#444" stroke-width="1" fill="#999"/>
<rect x="693.6" y="486" width="12.8" height="7.2" fill="#333"/>
<rect x="696" y="487.5" width="6" height="4" fill="#777"/>
<line x1="678" y1="502" x2="678" y2="531" stroke="#444" stroke-width="1.8"/>
<rect x="675.5" y="529" width="6" height="6" fill="#222"/>
<rect x="674.4" y="536.4" width="13.6" height="4.6" stroke="#555" stroke-width="1" fill="#ddd"/>
<line x1="480" y1="492" x2="700" y2="492" stroke="#999" stroke-width="1.6"/>
<rect x="571" y="521" width="6" height="6" fill="#222"/>
<rect x="567.2" y="529.2" width="14.4" height="10.4" stroke="#666" stroke-width="1" fill="#ddd"/>
<line x1="574" y1="515" x2="574" y2="560" stroke="#444" stroke-width="2"/>
<rect x="474.3" y="480" width="6.5" height="25.4" stroke="#555" stroke-width="1.2" fill="#eee"/>
<rect x="488.6" y="480.5" width="10.4" height="24.5" fill="#999"/>
<line x1="480.8" y1="480.5" x2="488.6" y2="480.5" stroke="#777" stroke-width="1"/>
<line x1="480.8" y1="505.5" x2="488.6" y2="505.5" stroke="#777" stroke-width="1"/>
<rect x="499" y="480.7" width="15" height="24.1" stroke="#666" stroke-width="1" fill="#fff"/>
<rect x="514" y="480.7" width="10.4" height="24.1" fill="#aaa"/>
<rect x="525.7" y="471.6" width="13" height="41.6" stroke="#555" stroke-width="1.2" fill="#fff"/>
<line x1="529.5" y1="471.6" x2="529.5" y2="513.2" stroke="#888" stroke-width="1"/>
<rect x="538.7" y="475.5" width="30" height="26.5" stroke="#555" stroke-width="1" fill="#fff"/>
<path d="M546,479 L552,490 M566,479 L560,490" stroke="#444" stroke-width="1.3" fill="none"/>
<line x1="531.5" y1="468" x2="531.5" y2="630" stroke="#333" stroke-width="1.3"/>
<rect x="491.9" y="526.2" width="52.6" height="11.8" stroke="#555" stroke-width="1" fill="#fff"/>
<rect x="506.8" y="526.2" width="6.5" height="11.8" fill="#777"/>
<line x1="486" y1="529.5" x2="550" y2="529.5" stroke="#888" stroke-width="1"/>
<line x1="486" y1="532.5" x2="546" y2="532.5" stroke="#666" stroke-width="1"/>
<line x1="486" y1="515" x2="486" y2="560" stroke="#444" stroke-width="2"/>
<rect x="484" y="519" width="5" height="5" fill="#222"/>
<line x1="491.5" y1="470" x2="491.5" y2="560" stroke="#555" stroke-width="1"/>
<circle cx="551.2" cy="460.5" r="16.3" stroke="#333" stroke-width="1.5" fill="#fff"/>
<path d="M535.5,465 A16.3,16.3 0 0 0 567,465" stroke="#222" stroke-width="2.6" fill="none"/>
<rect x="540" y="441" width="22" height="3" stroke="#777" stroke-width="0.8" fill="#aaa"/>
<rect x="541" y="444.5" width="20" height="4" stroke="#666" stroke-width="0.8" fill="#ddd"/>
<path d="M537.5,461 Q551.2,476 565,461 L561,457.5 Q551.2,467 541.5,457.5 Z" stroke="#444" stroke-width="1" fill="#999"/>
<rect x="549.5" y="458" width="3.5" height="8" fill="#fff"/>
<path d="M551.5,455 L539,462 M551.5,455 L564,462 M551.5,455 L551.5,470" stroke="#333" stroke-width="1.4" fill="none"/>
<circle cx="551.5" cy="455" r="1.5" stroke="#222" stroke-width="1" fill="#222"/>
<path d="M489.2,410.9 L510.6,410.9 L546,438" stroke="#555" stroke-width="1" fill="none"/>
<path d="M489.2,416.7 L508,416.7 L542,443" stroke="#555" stroke-width="1" fill="none"/>
<path d="M489.2,413.8 L509,413.8 L544,440.5" stroke="#999" stroke-width="1" fill="none"/>
<rect x="499" y="410.5" width="2.5" height="6.5" fill="#222"/>
<path d="M381,819 L394,819.4 Q440,820 473.6,823.4 Q487.5,826 488.8,840 L489.5,944 Q488.5,956 473.6,958.8 Q440,962.5 394,963 L381,963" stroke="#444" stroke-width="1.3" fill="none"/>
<path d="M393,826 Q440,826.5 470,829.5 Q483,832 483.5,845 L483.5,938 Q483,951 470,953 Q440,957 393,957.5" stroke="#555" stroke-width="1.2" fill="none"/>
<line x1="393.5" y1="819" x2="393.5" y2="826" stroke="#555" stroke-width="1"/>
<line x1="393.5" y1="957.5" x2="393.5" y2="963" stroke="#555" stroke-width="1"/>
<line x1="393" y1="826" x2="396" y2="834" stroke="#666" stroke-width="1"/>
<line x1="393" y1="957.5" x2="396" y2="950" stroke="#666" stroke-width="1"/>
<path d="M358,822 L352,822 Q338,826 336,840 L335.5,944 Q337,960 352,961 L358,961" stroke="#555" stroke-width="1.2" fill="none"/>
<line x1="357.5" y1="829" x2="357.5" y2="951" stroke="#555" stroke-width="1.2"/>
<rect x="357.8" y="819.8" width="23.4" height="2.8" stroke="#444" stroke-width="1" fill="#999"/>
<rect x="357.8" y="960.2" width="23.4" height="2.8" stroke="#444" stroke-width="1" fill="#999"/>
<rect x="357.8" y="828" width="29.7" height="11.6" stroke="#777" stroke-width="1" fill="#fff"/>
<rect x="358" y="831" width="29" height="3" fill="#aaa"/>
<rect x="358" y="835.5" width="29" height="2" fill="#ccc"/>
<rect x="357.8" y="943" width="29.7" height="11.6" stroke="#777" stroke-width="1" fill="#fff"/>
<rect x="358" y="946" width="29" height="3" fill="#aaa"/>
<rect x="358" y="950" width="29" height="2" fill="#ccc"/>
<path d="M387.5,828 L387.5,823 Q390,820 393,820 M387.5,954.6 L387.5,959 Q390,962 393,962" stroke="#555" stroke-width="1" fill="none"/>
<line x1="341" y1="832" x2="344" y2="826" stroke="#777" stroke-width="1"/>
<line x1="343" y1="833" x2="343" y2="848" stroke="#777" stroke-width="1.5"/>
<line x1="332" y1="839.5" x2="352" y2="839.5" stroke="#777" stroke-width="1"/>
<line x1="341" y1="950" x2="344" y2="956" stroke="#777" stroke-width="1"/>
<line x1="332" y1="944.5" x2="352" y2="944.5" stroke="#777" stroke-width="1"/>
<circle cx="371.3" cy="859.4" r="7.5" stroke="#555" stroke-width="1" fill="none"/>
<circle cx="371.3" cy="922.4" r="10" stroke="#555" stroke-width="1" fill="none"/>
<line x1="371.5" y1="800" x2="371.5" y2="968" stroke="#555" stroke-width="1" stroke-dasharray="30,4,5,4"/>
<line x1="413" y1="813.5" x2="413" y2="969.2" stroke="#888" stroke-width="2"/>
<path d="M356,874 Q362,880 362,891 Q362,902 356,908" stroke="#555" stroke-width="1" fill="none"/>
<circle cx="407.8" cy="890" r="30.1" stroke="#555" stroke-width="1" fill="none"/>
<circle cx="407.8" cy="890" r="27.4" stroke="#777" stroke-width="1" fill="none"/>
<circle cx="407.8" cy="890" r="23.4" stroke="#333" stroke-width="2" fill="none"/>
<circle cx="407.8" cy="890" r="9.9" stroke="#555" stroke-width="1" fill="none"/>
<line x1="415.90960523846104" y1="895.6784067198754" x2="426.64049701864684" y2="903.192258036074" stroke="#444" stroke-width="1.3"/>
<line x1="399.690394761539" y1="895.6784067198754" x2="388.9595029813532" y2="903.192258036074" stroke="#444" stroke-width="1.3"/>
<line x1="399.690394761539" y1="884.3215932801246" x2="388.9595029813532" y2="876.807741963926" stroke="#444" stroke-width="1.3"/>
<line x1="415.90960523846104" y1="884.3215932801246" x2="426.64049701864684" y2="876.8077419639259" stroke="#444" stroke-width="1.3"/>
<line x1="374" y1="890.5" x2="440" y2="890.5" stroke="#777" stroke-width="1"/>
<line x1="407.5" y1="855" x2="407.5" y2="925" stroke="#777" stroke-width="1"/>
<line x1="407.8" y1="890" x2="442.4" y2="926" stroke="#444" stroke-width="1"/>
<rect x="439.5" y="923" width="5.8" height="5.8" fill="#333"/>
<circle cx="462.2" cy="890.9" r="14" stroke="#555" stroke-width="1" fill="none"/>
<circle cx="462.2" cy="890.9" r="10" stroke="#777" stroke-width="1" fill="none"/>
<circle cx="462.2" cy="890.9" r="6" stroke="#333" stroke-width="2.5" fill="none"/>
<circle cx="462.2" cy="890.9" r="2" stroke="#333" stroke-width="1" fill="#333"/>
<line x1="462" y1="861" x2="462" y2="884" stroke="#999" stroke-width="2"/>
<line x1="445" y1="891.5" x2="482" y2="891.5" stroke="#777" stroke-width="1"/>
<line x1="188" y1="891" x2="480" y2="891" stroke="#999" stroke-width="2" stroke-dasharray="30,6,8,6"/>
<rect x="213" y="876.5" width="63" height="29.5" stroke="#777" stroke-width="1" fill="none"/>
<rect x="275.7" y="874" width="4.3" height="34" fill="#555"/>
<rect x="280" y="876.5" width="19.2" height="29.5" stroke="#999" stroke-width="1" fill="none"/>
<rect x="299.2" y="874" width="4.8" height="34" fill="#555"/>
<rect x="309" y="871" width="6.5" height="39" stroke="#333" stroke-width="1.6" fill="#fff" rx="2"/>
<rect x="315.5" y="871" width="6.5" height="39" stroke="#333" stroke-width="1.6" fill="#fff" rx="2"/>
<rect x="310.5" y="883" width="3.5" height="7" fill="#444"/>
<rect x="317" y="891" width="3.5" height="7" fill="#444"/>
<line x1="307" y1="901" x2="326" y2="881" stroke="#444" stroke-width="2.6"/>
<line x1="307" y1="901" x2="326" y2="881" stroke="#fff" stroke-width="1"/>
<rect x="322" y="874" width="34" height="34" stroke="#999" stroke-width="1" fill="#fff"/>
<line x1="324.5" y1="874" x2="324.5" y2="908" stroke="#999" stroke-width="1"/>
<line x1="326.5" y1="874" x2="326.5" y2="908" stroke="#999" stroke-width="1"/>
<line x1="328.5" y1="874" x2="328.5" y2="908" stroke="#999" stroke-width="1"/>
<line x1="332.5" y1="874" x2="332.5" y2="908" stroke="#999" stroke-width="1"/>
<line x1="334.5" y1="874" x2="334.5" y2="908" stroke="#999" stroke-width="1"/>
<line x1="340.5" y1="874" x2="340.5" y2="908" stroke="#999" stroke-width="1"/>
<line x1="342.5" y1="874" x2="342.5" y2="908" stroke="#999" stroke-width="1"/>
<line x1="344.5" y1="874" x2="344.5" y2="908" stroke="#999" stroke-width="1"/>
<line x1="348.5" y1="874" x2="348.5" y2="908" stroke="#999" stroke-width="1"/>
<line x1="350.5" y1="874" x2="350.5" y2="908" stroke="#999" stroke-width="1"/>
<line x1="352.5" y1="874" x2="352.5" y2="908" stroke="#999" stroke-width="1"/>
<rect x="490.5" y="830.6" width="8" height="23.399999999999977" fill="#999"/>
<rect x="490.5" y="860" width="8" height="6.600000000000023" fill="#999"/>
<rect x="490.5" y="915" width="8" height="6" fill="#999"/>
<rect x="490.5" y="928" width="8" height="23" fill="#999"/>
<line x1="484.8" y1="830.5" x2="500" y2="830.5" stroke="#777" stroke-width="1"/>
<line x1="484.8" y1="952.5" x2="500" y2="952.5" stroke="#777" stroke-width="1"/>
<path d="M534.4,790 L534.4,776 Q534.4,769.6 541,769.6 L696,769.6 Q706.4,769.6 706.4,780 L706.4,842" stroke="#555" stroke-width="1.1" fill="none"/>
<path d="M544.4,790 L544.4,779.2 L690,779.2 Q695.6,779.2 695.6,786 L695.6,842" stroke="#555" stroke-width="1.1" fill="none"/>
<line x1="514" y1="774" x2="700" y2="774" stroke="#aaa" stroke-width="2.5" stroke-dasharray="26,5,12,5"/>
<line x1="701.5" y1="790" x2="701.5" y2="840" stroke="#999" stroke-width="1" stroke-dasharray="14,4"/>
<path d="M531,781 A9.5,9.5 0 0 1 548,766" stroke="#555" stroke-width="1" fill="none"/>
<line x1="535" y1="765" x2="544.5" y2="765" stroke="#555" stroke-width="1.6"/>
<rect x="515.2" y="767" width="9.6" height="2.5" fill="#555"/>
<rect x="555.2" y="767" width="8.8" height="2.5" fill="#555"/>
<rect x="521.6" y="783.5" width="12.8" height="2" fill="#555"/>
<rect x="544.8" y="783.5" width="12.8" height="2" fill="#555"/>
<path d="M518,770 Q516.5,780 522,784.6 M561,770 Q563,780 557.6,784.6" stroke="#555" stroke-width="1" fill="none"/>
<line x1="539.5" y1="760" x2="539.5" y2="792" stroke="#999" stroke-width="1.2"/>
<line x1="534.5" y1="790" x2="534.5" y2="833.6" stroke="#555" stroke-width="1.1"/>
<line x1="544.5" y1="790" x2="544.5" y2="833.6" stroke="#555" stroke-width="1.1"/>
<line x1="539.5" y1="790" x2="539.5" y2="833.6" stroke="#999" stroke-width="1"/>
<rect x="693" y="840" width="14" height="8" fill="#444"/>
<line x1="706" y1="844" x2="720" y2="844" stroke="#777" stroke-width="2"/>
<rect x="490.4" y="832" width="8" height="24" fill="#999"/>
<rect x="498" y="832" width="16" height="24" stroke="#777" stroke-width="1" fill="none"/>
<rect x="514" y="832" width="10.8" height="24" fill="#aaa"/>
<rect x="527.2" y="824" width="9.6" height="40" stroke="#555" stroke-width="1.2" fill="#fff"/>
<line x1="531.5" y1="824" x2="531.5" y2="864" stroke="#888" stroke-width="1"/>
<rect x="536.8" y="833.6" width="30.4" height="22.4" stroke="#555" stroke-width="1" fill="#fff"/>
<path d="M540,856 L551,866 L562,856" stroke="#555" stroke-width="1" fill="none"/>
<rect x="567.2" y="824" width="4.8" height="57.6" stroke="#555" stroke-width="1" fill="#eee"/>
<path d="M490,860.6 L522,860.6 Q532,860 540,850 Q545,844 552,843 L570,843" stroke="#555" stroke-width="1" fill="none"/>
<path d="M490,865.4 L524,865.4 Q535,865 543,854 Q548,848 555,847.5 L570,847.5" stroke="#555" stroke-width="1" fill="none"/>
<path d="M526,863 Q537,862 542,852 Q546,846 553,845.3 L570,845.3" stroke="#888" stroke-width="0.8" fill="none"/>
<rect x="498.5" y="859.8" width="2.6" height="6.4" fill="#222"/>
<rect x="490" y="859.8" width="8" height="6.4" fill="#aaa"/>
<rect x="540" y="840" width="30" height="3" fill="#aaa"/>
<line x1="493" y1="884.6" x2="493" y2="897.8" stroke="#333" stroke-width="1.5"/>
<path d="M492.8,884.6 L522,884.6 Q532,884 536,876" stroke="#555" stroke-width="1" fill="none"/>
<path d="M492.8,897.8 L524,897.8 Q536,897 540,884" stroke="#555" stroke-width="1" fill="none"/>
<line x1="492.8" y1="891.5" x2="528" y2="891.5" stroke="#777" stroke-width="1"/>
<rect x="507" y="884.6" width="6" height="13.2" fill="#666"/>
<circle cx="551.4" cy="878.2" r="16.4" stroke="#333" stroke-width="1.5" fill="#fff"/>
<path d="M538.4,876.2 Q551.4,887.2 564.4,876.2 L560.4,870.2 Q551.4,875.2 542.4,870.2 Z" stroke="#555" stroke-width="1" fill="#aaa"/>
<rect x="549.4" y="871.2" width="4" height="9" fill="#fff"/>
<path d="M536.4,880.2 L551.4,882.2 L566.4,880.2 M551.4,882.2 L551.4,894.2" stroke="#555" stroke-width="1.4" fill="none"/>
<path d="M544,951.5 Q551,949.5 559,951.5" stroke="#333" stroke-width="1.8" fill="none"/>
<path d="M545,941 L540,946 M557,941 L562,946" stroke="#555" stroke-width="1" fill="none"/>
<circle cx="551.1" cy="971.9" r="16.4" stroke="#333" stroke-width="1.5" fill="#fff"/>
<path d="M538.1,969.9 Q551.1,980.9 564.1,969.9 L560.1,963.9 Q551.1,968.9 542.1,963.9 Z" stroke="#555" stroke-width="1" fill="#aaa"/>
<rect x="549.1" y="964.9" width="4" height="9" fill="#fff"/>
<path d="M536.1,973.9 L551.1,975.9 L566.1,973.9 M551.1,975.9 L551.1,987.9" stroke="#555" stroke-width="1.4" fill="none"/>
<rect x="571.2" y="806.4" width="33.6" height="17.6" stroke="#555" stroke-width="1" fill="#fff"/>
<path d="M571,806.3 L598,806.3 Q604.4,808 604.4,822" stroke="#444" stroke-width="1.2" fill="none"/>
<line x1="574" y1="826.5" x2="670" y2="826.5" stroke="#666" stroke-width="1"/>
<line x1="574" y1="861.5" x2="670" y2="861.5" stroke="#666" stroke-width="1"/>
<path d="M582.1,826.3 L603.1,826.3 L609.1,832.3 L609.1,855.3 L603.1,861.3 L582.1,861.3 L576.1,855.3 L576.1,832.3 Z" stroke="#555" stroke-width="1.2" fill="#fff"/>
<circle cx="592.6" cy="843.8" r="14" stroke="#444" stroke-width="1.2" fill="none" stroke-dasharray="2.5,2"/>
<rect x="603.934313455158" y="847.5575680531111" width="3.2" height="3.2" fill="#333"/>
<rect x="596.3575680531112" y="855.1343134551579" width="3.2" height="3.2" fill="#333"/>
<rect x="585.6424319468888" y="855.1343134551579" width="3.2" height="3.2" fill="#333"/>
<rect x="578.065686544842" y="847.5575680531111" width="3.2" height="3.2" fill="#333"/>
<rect x="578.065686544842" y="836.8424319468887" width="3.2" height="3.2" fill="#333"/>
<rect x="585.6424319468888" y="829.265686544842" width="3.2" height="3.2" fill="#333"/>
<rect x="596.3575680531112" y="829.265686544842" width="3.2" height="3.2" fill="#333"/>
<rect x="603.934313455158" y="836.8424319468887" width="3.2" height="3.2" fill="#333"/>
<path d="M630.1,826.3 L651.1,826.3 L657.1,832.3 L657.1,855.3 L651.1,861.3 L630.1,861.3 L624.1,855.3 L624.1,832.3 Z" stroke="#555" stroke-width="1.2" fill="#fff"/>
<circle cx="640.6" cy="843.8" r="14" stroke="#444" stroke-width="1.2" fill="none" stroke-dasharray="2.5,2"/>
<rect x="651.934313455158" y="847.5575680531111" width="3.2" height="3.2" fill="#333"/>
<rect x="644.3575680531112" y="855.1343134551579" width="3.2" height="3.2" fill="#333"/>
<rect x="633.6424319468888" y="855.1343134551579" width="3.2" height="3.2" fill="#333"/>
<rect x="626.065686544842" y="847.5575680531111" width="3.2" height="3.2" fill="#333"/>
<rect x="626.065686544842" y="836.8424319468887" width="3.2" height="3.2" fill="#333"/>
<rect x="633.6424319468888" y="829.265686544842" width="3.2" height="3.2" fill="#333"/>
<rect x="644.3575680531112" y="829.265686544842" width="3.2" height="3.2" fill="#333"/>
<rect x="651.934313455158" y="836.8424319468887" width="3.2" height="3.2" fill="#333"/>
<rect x="583" y="833" width="68.4" height="21.6" stroke="#444" stroke-width="1.3" fill="#fff" rx="10.8"/>
<line x1="586" y1="844" x2="650" y2="844" stroke="#999" stroke-width="2" stroke-dasharray="12,4,4,4"/>
<line x1="592.5" y1="815" x2="592.5" y2="965" stroke="#555" stroke-width="1.2"/>
<line x1="641.5" y1="818" x2="641.5" y2="872" stroke="#666" stroke-width="1"/>
<rect x="668" y="824.8" width="8.4" height="38.4" stroke="#333" stroke-width="1.3" fill="#fff"/>
<rect x="671" y="824.8" width="3" height="38.4" fill="#555"/>
<rect x="676.4" y="838" width="15.6" height="12" stroke="#666" stroke-width="1" fill="#fff"/>
<line x1="676" y1="834" x2="776" y2="834" stroke="#999" stroke-width="2"/>
<line x1="676" y1="855" x2="776" y2="855" stroke="#999" stroke-width="1.6" stroke-dasharray="28,6,12,6"/>
<line x1="776" y1="833" x2="776" y2="855" stroke="#999" stroke-width="2"/>
<line x1="745" y1="854" x2="776" y2="854" stroke="#999" stroke-width="2"/>
<line x1="600" y1="844" x2="788" y2="844" stroke="#999" stroke-width="1.6" stroke-dasharray="28,6,12,6"/>
<line x1="581.6" y1="870.5" x2="604.4" y2="870.5" stroke="#777" stroke-width="1"/>
<path d="M574,926 L574,944 Q574,956 586,956 L600,956 Q611,956 611,944 L611,926" stroke="#555" stroke-width="1.2" fill="#fff"/>
<path d="M577.5,928 L577.5,942 Q577.5,952.5 590,952.5 L596,952.5 Q607.5,952.5 607.5,942 L607.5,928" stroke="#444" stroke-width="1.1" fill="none" stroke-dasharray="2.5,2"/>
<rect x="574.4" y="929.4" width="3.2" height="3.2" fill="#333"/>
<rect x="607.4" y="929.4" width="3.2" height="3.2" fill="#333"/>
<rect x="576.4" y="946.4" width="3.2" height="3.2" fill="#333"/>
<rect x="605.4" y="946.4" width="3.2" height="3.2" fill="#333"/>
<rect x="591.0" y="952.4" width="3.2" height="3.2" fill="#333"/>
<path d="M582.5,862 L582.5,940 Q582.5,951.8 592.6,951.8 Q602.5,951.8 602.5,940 L602.5,862" stroke="#444" stroke-width="1.2" fill="none"/>
<line x1="586.6" y1="938" x2="606" y2="938" stroke="#555" stroke-width="1.5"/>
<rect x="489.6" y="926.4" width="8" height="24" fill="#999"/>
<rect x="498" y="926.4" width="16" height="24" stroke="#777" stroke-width="1" fill="none"/>
<rect x="514" y="926.4" width="10.4" height="24" fill="#aaa"/>
<rect x="526.4" y="916.8" width="10.4" height="41.6" stroke="#555" stroke-width="1.2" fill="#fff"/>
<rect x="536.8" y="927.2" width="30.4" height="21.6" stroke="#555" stroke-width="1" fill="#fff"/>
<path d="M545,927 L551,918 L557,927" stroke="#555" stroke-width="1" fill="none"/>
<rect x="567.2" y="916.8" width="4.8" height="43" stroke="#555" stroke-width="1" fill="#eee"/>
<path d="M492.8,918.4 L525,918.4 L542.4,936 L572,936" stroke="#555" stroke-width="1" fill="none"/>
<path d="M492.8,922 L523,922 L540,939 L572,939" stroke="#555" stroke-width="1" fill="none"/>
<rect x="498" y="917" width="3" height="6" fill="#333"/>
<line x1="480" y1="937.5" x2="700" y2="937.5" stroke="#777" stroke-width="1.2"/>
<line x1="700" y1="938" x2="758" y2="938" stroke="#555" stroke-width="2"/>
<path d="M571.2,900 L571.2,974.4" stroke="#444" stroke-width="1.2" fill="none"/>
<line x1="571.2" y1="974" x2="821" y2="974" stroke="#888" stroke-width="2"/>
<path d="M604,958 Q604,972 598,974" stroke="#555" stroke-width="1" fill="none"/>
<rect x="606" y="920.3" width="65.3" height="35.7" stroke="#555" stroke-width="1.2" fill="#fff"/>
<rect x="607.6" y="921" width="9.8" height="34.3" fill="#ddd"/>
<line x1="617.5" y1="921" x2="617.5" y2="955.6" stroke="#888" stroke-width="1"/>
<rect x="624.4" y="920.8" width="4.2" height="34.8" fill="#999"/>
<line x1="647.5" y1="920.8" x2="647.5" y2="955.6" stroke="#444" stroke-width="1.3"/>
<line x1="606" y1="938" x2="720" y2="938" stroke="#666" stroke-width="1.5" stroke-dasharray="30,4,6,4"/>
<path d="M628,930 L640,934 L648,935 M628,945 L640,941 L648,940" stroke="#555" stroke-width="1" fill="none"/>
<path d="M671.6,920.8 L677.6,924 L677.6,952 L671.6,955.6" stroke="#555" stroke-width="1.2" fill="none"/>
<rect x="677.6" y="931.6" width="14.4" height="12" stroke="#555" stroke-width="1" fill="#fff"/>
<rect x="692" y="934" width="14" height="7.2" fill="#333"/>
<line x1="706" y1="938" x2="721" y2="938" stroke="#666" stroke-width="2.5"/>
<line x1="571.5" y1="806" x2="571.5" y2="824" stroke="#555" stroke-width="1"/>
</svg>
</body></html>
